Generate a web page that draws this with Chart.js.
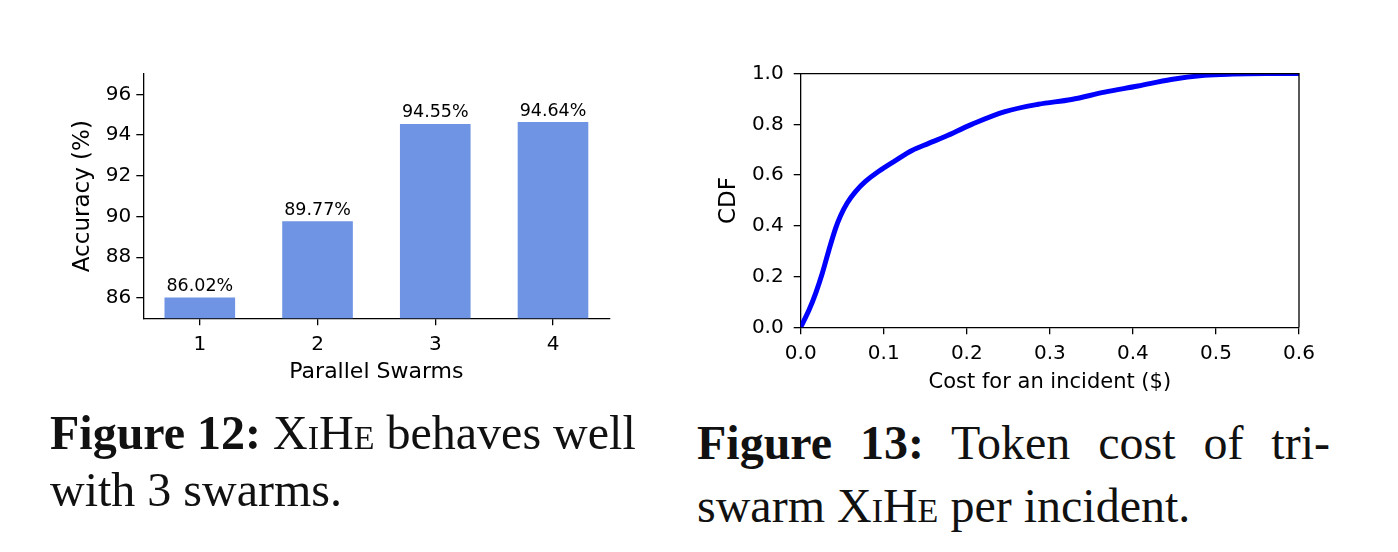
<!DOCTYPE html>
<html>
<head>
<meta charset="utf-8">
<script src="https://cdn.jsdelivr.net/npm/chart.js@4.4.1/dist/chart.umd.min.js"></script>
<style>
  html, body { margin: 0; padding: 0; background: #fff; }
  body { width: 1398px; height: 552px; position: relative; overflow: hidden; }
  .box { position: absolute; }
  .cap { position: absolute; font-family: "Liberation Serif", serif; font-size: 48px; color: #111; white-space: nowrap; }
  .cap b { font-weight: bold; }
  .sc { font-variant: small-caps; }
  .just { text-align: justify; text-align-last: justify; width: 633px; }
</style>
</head>
<body>
<div class="box" id="b1" style="left:40px; top:60px; width:600px; height:345px;"><canvas id="c1"></canvas></div>
<div class="box" id="b2" style="left:690px; top:60px; width:660px; height:345px;"><canvas id="c2"></canvas></div>

<div class="cap" style="left:50px; top:404px; line-height:57px;">
  <div><b>Figure 12:</b> <span class="sc">XiHe</span> behaves well</div>
  <div>with 3 swarms.</div>
</div>
<div class="cap" style="left:697px; top:411px; line-height:63px;">
  <div class="just"><b>Figure 13:</b> Token cost of tri-</div>
  <div>swarm <span class="sc">XiHe</span> per incident.</div>
</div>

<script>
// ---- Figure 12 data ----
const swarms = [1, 2, 3, 4];
const accuracy = [86.02, 89.77, 94.55, 94.64];
const accTicks = [86, 88, 90, 92, 94, 96];

// ---- Figure 13 data ----
const costs = [0, 0.010, 0.018, 0.026, 0.034, 0.042, 0.048, 0.056, 0.066, 0.078, 0.094, 0.114, 0.134, 0.154, 0.174, 0.206, 0.246, 0.286, 0.326, 0.366, 0.406, 0.446, 0.486, 0.52, 0.56, 0.6];
const cdf   = [0, 0.068, 0.134, 0.213, 0.305, 0.390, 0.440, 0.490, 0.535, 0.575, 0.615, 0.657, 0.697, 0.725, 0.752, 0.800, 0.850, 0.879, 0.898, 0.927, 0.951, 0.977, 0.993, 0.998, 1.0, 1.0];
const costTicks = [0, 0.1, 0.2, 0.3, 0.4, 0.5, 0.6];
const cdfTicks = [0, 0.2, 0.4, 0.6, 0.8, 1.0];

Chart.defaults.font.family = "'DejaVu Sans', sans-serif";
Chart.defaults.color = '#000';

const barLabels = {
  id: 'barLabels',
  afterDatasetsDraw(chart) {
    const ctx = chart.ctx;
    const meta = chart.getDatasetMeta(0);
    ctx.save();
    ctx.font = "17.5px 'DejaVu Sans'";
    ctx.fillStyle = '#000';
    ctx.textAlign = 'center';
    ctx.textBaseline = 'alphabetic';
    meta.data.forEach((el, i) => {
      ctx.fillText(accuracy[i].toFixed(2) + '%', el.x, el.y - 6.5);
    });
    ctx.restore();
  }
};

const frame = {
  id: 'frame',
  afterDraw(chart) {
    const a = chart.chartArea, ctx = chart.ctx;
    ctx.save();
    ctx.strokeStyle = '#000';
    ctx.lineWidth = 1.3;
    ctx.beginPath();
    ctx.moveTo(a.left, a.top); ctx.lineTo(a.right, a.top); ctx.lineTo(a.right, a.bottom);
    ctx.stroke();
    ctx.restore();
  }
};

function tickSetter(arr) {
  return (scale) => { scale.ticks = arr.map(v => ({ value: v })); };
}
function fitY(w) {
  return (s) => { s.width = w; s.paddingTop = 0; s.paddingBottom = 0; };
}
function fitX(h) {
  return (s) => { s.height = h; s.paddingLeft = 0; s.paddingRight = 0; };
}

new Chart(document.getElementById('c1'), {
  type: 'bar',
  data: {
    datasets: [{
      data: swarms.map((s, i) => ({ x: s, y: accuracy[i] })),
      backgroundColor: '#6f94e3',
      borderWidth: 0,
      barPercentage: 0.6,
      categoryPercentage: 1.0
    }]
  },
  options: {
    responsive: true,
    maintainAspectRatio: false,
    animation: false,
    events: [],
    layout: { padding: { top: 14, right: 30.5, left: 0, bottom: 0 } },
    plugins: { legend: { display: false }, tooltip: { enabled: false } },
    scales: {
      x: {
        type: 'linear',
        offset: false,
        min: 0.52, max: 4.48,
        afterBuildTicks: tickSetter(swarms),
        afterFit: fitX(86.7),
        grid: { display: true, offset: false, drawOnChartArea: false, drawTicks: true, tickLength: 7, color: '#000', lineWidth: 1.3 },
        border: { display: true, color: '#000', width: 1.3 },
        ticks: { font: { size: 20 }, padding: 7, maxRotation: 0, callback: (v) => String(v) },
        title: { display: true, text: 'Parallel Swarms', font: { size: 22 }, padding: { top: 0, bottom: 20 } }
      },
      y: {
        min: 85, max: 97,
        afterBuildTicks: tickSetter(accTicks),
        afterFit: fitY(103.3),
        grid: { display: true, drawOnChartArea: false, drawTicks: true, tickLength: 7, color: '#000', lineWidth: 1.3 },
        border: { display: true, color: '#000', width: 1.3 },
        ticks: { font: { size: 20 }, padding: 5, callback: (v) => String(v) },
        title: { display: true, text: 'Accuracy (%)', font: { size: 23 }, padding: { top: 29, bottom: 0 } }
      }
    }
  },
  plugins: [barLabels]
});

new Chart(document.getElementById('c2'), {
  type: 'line',
  data: {
    datasets: [{
      data: costs.map((c, i) => ({ x: c, y: cdf[i] })),
      borderColor: '#0000ff',
      borderWidth: 5,
      pointRadius: 0,
      fill: false,
      tension: 0.35,
      clip: 0
    }]
  },
  options: {
    responsive: true,
    maintainAspectRatio: false,
    animation: false,
    events: [],
    layout: { padding: { top: 13.6, right: 51, left: 0, bottom: 0 } },
    plugins: { legend: { display: false }, tooltip: { enabled: false } },
    scales: {
      x: {
        type: 'linear',
        min: 0, max: 0.6,
        afterBuildTicks: tickSetter(costTicks),
        afterFit: fitX(77.7),
        grid: { display: true, drawOnChartArea: false, drawTicks: true, tickLength: 7, color: '#000', lineWidth: 1.3 },
        border: { display: true, color: '#000', width: 1.3 },
        ticks: { font: { size: 20 }, padding: 7, maxRotation: 0, callback: (v) => Number(v).toFixed(1) },
        title: { display: true, text: 'Cost for an incident ($)', font: { size: 21 }, padding: { top: 0, bottom: 9.5 } }
      },
      y: {
        type: 'linear',
        min: 0, max: 1,
        afterBuildTicks: tickSetter(cdfTicks),
        afterFit: fitY(110.7),
        grid: { display: true, drawOnChartArea: false, drawTicks: true, tickLength: 7, color: '#000', lineWidth: 1.3 },
        border: { display: true, color: '#000', width: 1.3 },
        ticks: { font: { size: 20 }, padding: 10, callback: (v) => Number(v).toFixed(1) },
        title: { display: true, text: 'CDF', font: { size: 23 }, padding: { top: 25, bottom: 0 } }
      }
    }
  },
  plugins: [frame]
});
</script>
</body>
</html>
